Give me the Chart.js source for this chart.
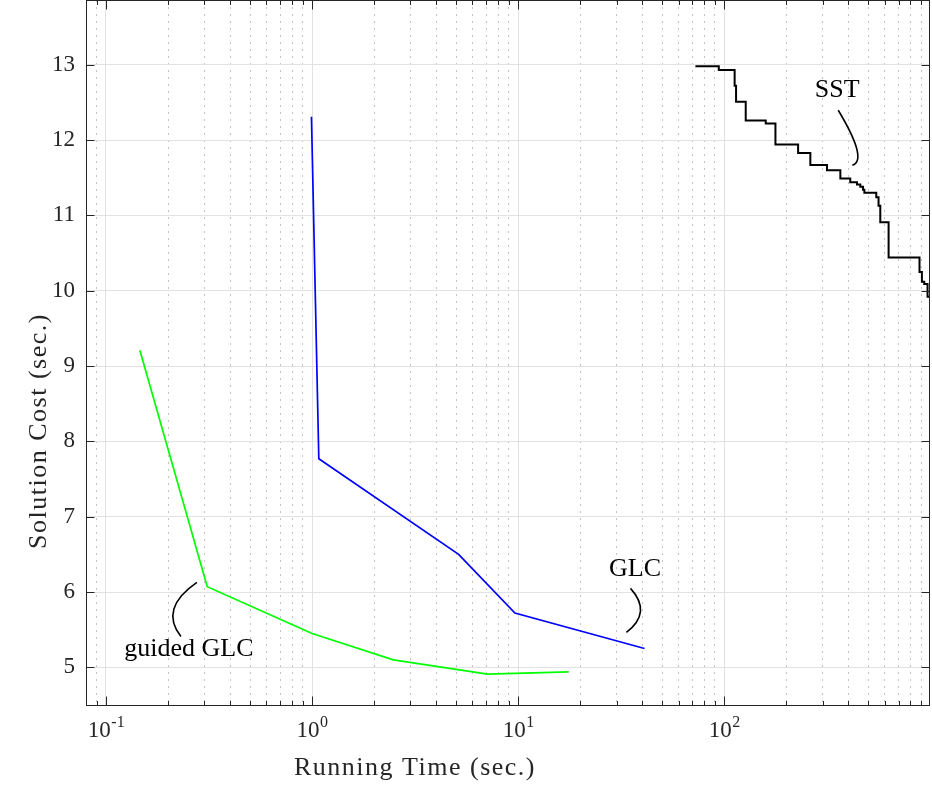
<!DOCTYPE html>
<html>
<head>
<meta charset="utf-8">
<title>Solution cost vs running time</title>
<script src="https://cdn.jsdelivr.net/npm/chart.js@4.4.1/dist/chart.umd.min.js"></script>
<style>
    html, body { margin: 0; padding: 0; background: #ffffff; }
    #wrap { width: 932px; height: 798px; }
</style>
</head>
<body>
<div id="wrap"><canvas id="costChart" width="932" height="798"></canvas></div>
<script>
// ==========================================================================
// Data
// ==========================================================================

// SST: stair curve, each cost holds until the next time stamp
const sstTime = [72.4, 94.0, 112.2, 114.0, 127.0, 158.8, 177.0, 228.0, 261.4, 314.8,
                 365.5, 408.3, 440.1, 456.8, 470.9, 478.0, 546.0, 560.0, 571.0, 626.6,
                 885.0, 909.0, 933.0, 968.0, 995.0];
const sstCost = [12.98, 12.93, 12.72, 12.51, 12.26, 12.22, 11.94, 11.83, 11.67, 11.60,
                 11.49, 11.44, 11.41, 11.38, 11.34, 11.30, 11.24, 11.13, 10.91, 10.44,
                 10.25, 10.12, 10.09, 9.92, 9.92];

const glcTime = [0.993, 1.078, 5.14, 9.64, 41.0];
const glcCost = [12.31, 7.77, 6.50, 5.72, 5.25];

const guidedTime = [0.146, 0.310, 1.0, 2.48, 7.1, 17.6];
const guidedCost = [9.21, 6.07, 5.45, 5.10, 4.91, 4.94];

// Axes
const xRange = [0.08, 995];
const xDecades = [0.01, 0.1, 1, 10, 100];
const xMajorTicks = [0.1, 1, 10, 100];
const xMajorExponents = ['-1', '0', '1', '2'];
const yRange = [4.5, 13.86];
const yTicks = [5, 6, 7, 8, 9, 10, 11, 12, 13];

// Text labels placed next to the curves (data coordinates)
const curveNotes = [
    { text: 'SST',        at: [353, 12.572],  curve: [[357, 12.396], [499.5, 11.732], [417.8, 11.665]] },
    { text: 'GLC',        at: [36.9, 6.207],  curve: [[35.05, 6.048], [44.8, 5.729], [33.5, 5.463]] },
    { text: 'guided GLC', at: [0.2524, 5.145], curve: [[0.2762, 6.128], [0.1806, 5.782], [0.2310, 5.410]] }
];

// ==========================================================================
// Styling
// ==========================================================================

const AXIS_COLOR = '#262626';
const GRID_COLOR = '#e2e2e2';
const MINOR_GRID_COLOR = '#c2c2c2';
const SERIF = '"Liberation Serif", "DejaVu Serif", serif';

const xTickValues = [];
xDecades.forEach(d => {
    for (let m = 1; m <= 9; m++) {
        const v = parseFloat((m * d).toPrecision(6));
        if (v >= xRange[0] && v <= xRange[1]) xTickValues.push(v);
    }
});

const isMajorX = v => xMajorTicks.includes(v);
const toPoints = (xs, ys) => xs.map((x, i) => ({ x, y: ys[i] }));

// ==========================================================================
// Frame, inward ticks, superscript labels, titles and notes
// ==========================================================================

const framePlugin = {
    id: 'frame',
    beforeDraw(chart) {
        const { ctx, width, height } = chart;
        ctx.save();
        ctx.fillStyle = '#ffffff';
        ctx.fillRect(0, 0, width, height);
        ctx.restore();
    },
    afterDatasetsDraw(chart) {
        const { ctx, chartArea: a, scales: { x, y } } = chart;
        const left = Math.round(a.left) + 0.5;
        const right = Math.round(a.right) - 0.5;
        const top = Math.round(a.top) + 0.5;
        const bottom = Math.round(a.bottom) + 0.5;

        ctx.save();
        ctx.strokeStyle = AXIS_COLOR;
        ctx.lineWidth = 1;
        ctx.beginPath();
        xTickValues.forEach(v => {
            const px = Math.round(x.getPixelForValue(v)) + 0.5;
            const len = isMajorX(v) ? 9 : 4.5;
            ctx.moveTo(px, bottom); ctx.lineTo(px, bottom - len);
            ctx.moveTo(px, top); ctx.lineTo(px, top + len);
        });
        yTicks.forEach(v => {
            const py = Math.round(y.getPixelForValue(v)) + 0.5;
            ctx.moveTo(left, py); ctx.lineTo(left + 8, py);
            ctx.moveTo(right, py); ctx.lineTo(right - 8, py);
        });
        ctx.stroke();
        ctx.strokeRect(left, top, right - left, bottom - top);

        // x tick labels: 10 with a raised exponent
        ctx.fillStyle = AXIS_COLOR;
        ctx.textBaseline = 'alphabetic';
        ctx.textAlign = 'left';
        const baseFont = '23px ' + SERIF;
        const expFont = '16px ' + SERIF;
        xMajorTicks.forEach((v, i) => {
            ctx.font = baseFont;
            const wBase = ctx.measureText('10').width;
            ctx.font = expFont;
            const wExp = ctx.measureText(xMajorExponents[i]).width;
            const start = x.getPixelForValue(v) - (wBase + wExp) / 2;
            ctx.font = baseFont;
            ctx.fillText('10', start, 737);
            ctx.font = expFont;
            ctx.fillText(xMajorExponents[i], start + wBase + 0.5, 727);
        });

        // axis titles
        ctx.font = '26px ' + SERIF;
        ctx.letterSpacing = '1.5px';
        ctx.textAlign = 'center';
        ctx.fillText('Running Time (sec.)', 415, 775);
        ctx.save();
        ctx.translate(46, 431);
        ctx.rotate(-Math.PI / 2);
        ctx.fillText('Solution Cost (sec.)', 0, 0);
        ctx.restore();
        ctx.letterSpacing = '0px';

        // notes beside the curves
        ctx.strokeStyle = '#000000';
        ctx.fillStyle = '#000000';
        ctx.lineWidth = 1.6;
        curveNotes.forEach(note => {
            const [p0, p1, p2] = note.curve.map(([vx, vy]) => [x.getPixelForValue(vx), y.getPixelForValue(vy)]);
            ctx.beginPath();
            ctx.moveTo(p0[0], p0[1]);
            ctx.quadraticCurveTo(p1[0], p1[1], p2[0], p2[1]);
            ctx.stroke();
            ctx.font = '26px ' + SERIF;
            ctx.textAlign = 'center';
            ctx.fillText(note.text, x.getPixelForValue(note.at[0]), y.getPixelForValue(note.at[1]));
        });
        ctx.restore();
    }
};

// ==========================================================================
// Chart
// ==========================================================================

const costChart = new Chart(document.getElementById('costChart'), {
    type: 'line',
    data: {
        datasets: [
            {
                label: 'SST',
                data: toPoints(sstTime, sstCost),
                borderColor: '#000000',
                borderWidth: 2,
                stepped: 'before',
                pointRadius: 0
            },
            {
                label: 'GLC',
                data: toPoints(glcTime, glcCost),
                borderColor: '#0000ff',
                borderWidth: 1.7,
                pointRadius: 0
            },
            {
                label: 'guided GLC',
                data: toPoints(guidedTime, guidedCost),
                borderColor: '#00ff00',
                borderWidth: 1.7,
                pointRadius: 0
            }
        ]
    },
    options: {
        responsive: false,
        animation: false,
        layout: { padding: { left: 0, right: 2, top: 0, bottom: 0 } },
        plugins: {
            legend: { display: false },
            tooltip: { enabled: false }
        },
        scales: {
            x: {
                type: 'logarithmic',
                min: xRange[0],
                max: xRange[1],
                afterBuildTicks: scale => {
                    scale.ticks = xTickValues.map(v => ({ value: v, major: isMajorX(v) }));
                },
                afterFit: scale => {
                    scale.height = 93;
                    scale.paddingLeft = 0;
                    scale.paddingRight = 0;
                },
                ticks: { display: false },
                grid: {
                    drawTicks: false,
                    lineWidth: 1,
                    color: ctx => (ctx.tick && isMajorX(ctx.tick.value)) ? GRID_COLOR : MINOR_GRID_COLOR
                },
                border: {
                    display: false,
                    dash: ctx => (ctx.tick && !isMajorX(ctx.tick.value)) ? [2, 5] : []
                }
            },
            y: {
                type: 'linear',
                min: yRange[0],
                max: yRange[1],
                afterBuildTicks: scale => {
                    scale.ticks = yTicks.map(v => ({ value: v }));
                },
                afterFit: scale => {
                    scale.width = 86;
                    scale.paddingTop = 0;
                    scale.paddingBottom = 0;
                },
                ticks: {
                    color: AXIS_COLOR,
                    padding: 11,
                    font: { family: SERIF, size: 23 }
                },
                grid: { drawTicks: false, color: GRID_COLOR, lineWidth: 1 },
                border: { display: false }
            }
        }
    },
    plugins: [framePlugin]
});
</script>
</body>
</html>
